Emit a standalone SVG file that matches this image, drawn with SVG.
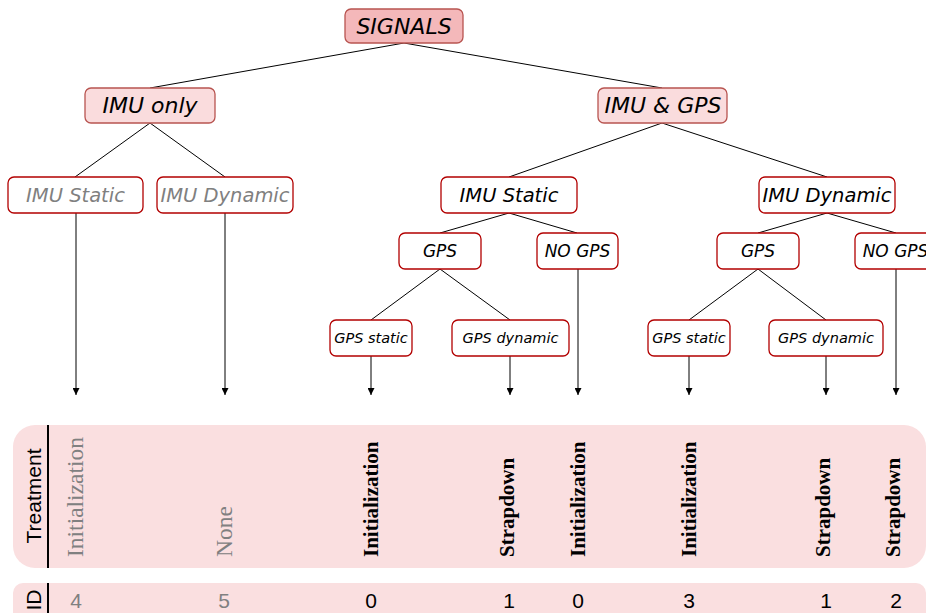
<svg xmlns="http://www.w3.org/2000/svg" width="926" height="613" viewBox="0 0 926 613">
  <defs>
    <marker id="arrow" viewBox="0 0 8 8" refX="8" refY="4" markerWidth="7" markerHeight="7" markerUnits="userSpaceOnUse" orient="auto">
      <path d="M0,0 L8,4 L0,8 Z" fill="#000"/>
    </marker>
    <style>
      .box { fill: #ffffff; stroke: #b20000; stroke-width: 1.3; }
      .root { fill: #f4b8ba; stroke: #b85450; stroke-width: 1.3; }
      .top { fill: #fadcdd; stroke: #b85450; stroke-width: 1.3; }
      .lbl { font-family: "DejaVu Sans", Verdana, sans-serif; font-style: italic; text-anchor: middle; fill: #000; }
      .gray { fill: #808080; }
      .l1 { font-size: 22px; }
      .l2 { font-size: 19.5px; }
      .l3 { font-size: 17px; }
      .l4 { font-size: 14.5px; }
      .edge { stroke: #000; stroke-width: 1; fill: none; }
      .arr { stroke: #000; stroke-width: 1; fill: none; marker-end: url(#arrow); }
      .band { fill: #fadfe0; }
      .sep { stroke: #000; stroke-width: 2; }
      .hdr { font-family: "Liberation Sans", Arial, sans-serif; font-size: 21px; fill: #000; text-anchor: middle; }
      .treat { font-family: "Liberation Serif", "Times New Roman", serif; font-size: 21px; font-weight: bold; fill: #000; }
      .treat.gray { font-weight: normal; font-size: 23.5px; fill: #808080; }
      .id { font-family: "Liberation Sans", Arial, sans-serif; font-size: 21px; text-anchor: middle; fill: #000; }
      .id.gray { fill: #808080; }
    </style>
  </defs>

  <!-- tree connectors -->
  <g id="connectors">
    <path class="edge" d="M404,43 L150,88"/>
    <path class="edge" d="M404,43 L662,88"/>
    <path class="edge" d="M150,123 L75,177"/>
    <path class="edge" d="M150,123 L225,177"/>
    <path class="edge" d="M662,123 L509,177"/>
    <path class="edge" d="M662,123 L827,177"/>
    <path class="edge" d="M509,213 L440,233"/>
    <path class="edge" d="M509,213 L577,233"/>
    <path class="edge" d="M827,213 L758,233"/>
    <path class="edge" d="M827,213 L896,233"/>
    <path class="edge" d="M440,269 L371,320"/>
    <path class="edge" d="M440,269 L510,320"/>
    <path class="edge" d="M758,269 L689,320"/>
    <path class="edge" d="M758,269 L826,320"/>
    <!-- leaves down to the table -->
    <path class="arr" d="M76,213 L76,395"/>
    <path class="arr" d="M225,213 L225,395"/>
    <path class="arr" d="M371,356 L371,395"/>
    <path class="arr" d="M510,356 L510,395"/>
    <path class="arr" d="M578,269 L578,395"/>
    <path class="arr" d="M689,356 L689,395"/>
    <path class="arr" d="M826,356 L826,395"/>
    <path class="arr" d="M896,269 L896,395"/>
  </g>

  <g id="signals">
    <rect class="root" x="345" y="9" width="118" height="34" rx="6"/>
    <text class="lbl l1" x="404" y="34">SIGNALS</text>
  </g>
  <g id="imu-only">
    <rect class="top" x="85" y="88" width="130" height="35" rx="6"/>
    <text class="lbl l1" x="150" y="113">IMU only</text>
  </g>
  <g id="imu-gps">
    <rect class="top" x="598" y="88" width="129" height="35" rx="6"/>
    <text class="lbl l1" x="663" y="113">IMU &amp; GPS</text>
  </g>

  <g id="imu-static-a">
    <rect class="box" x="8" y="177" width="135" height="36" rx="6"/>
    <text class="lbl l2 gray" x="75.5" y="202">IMU Static</text>
  </g>
  <g id="imu-dynamic-a">
    <rect class="box" x="157" y="177" width="136" height="36" rx="6"/>
    <text class="lbl l2 gray" x="225" y="202">IMU Dynamic</text>
  </g>
  <g id="imu-static-b">
    <rect class="box" x="441" y="177" width="136" height="36" rx="6"/>
    <text class="lbl l2" x="509" y="202">IMU Static</text>
  </g>
  <g id="imu-dynamic-b">
    <rect class="box" x="759" y="177" width="136" height="36" rx="6"/>
    <text class="lbl l2" x="827" y="202">IMU Dynamic</text>
  </g>

  <g id="gps-a">
    <rect class="box" x="399" y="233" width="82" height="36" rx="6"/>
    <text class="lbl l3" x="440" y="257">GPS</text>
  </g>
  <g id="no-gps-a">
    <rect class="box" x="537" y="233" width="81" height="36" rx="6"/>
    <text class="lbl l3" x="577.5" y="257">NO GPS</text>
  </g>
  <g id="gps-b">
    <rect class="box" x="717" y="233" width="82" height="36" rx="6"/>
    <text class="lbl l3" x="758" y="257">GPS</text>
  </g>
  <g id="no-gps-b">
    <rect class="box" x="855" y="233" width="81" height="36" rx="6"/>
    <text class="lbl l3" x="895.5" y="257">NO GPS</text>
  </g>

  <g id="gps-static-a">
    <rect class="box" x="330" y="320" width="82" height="36" rx="6"/>
    <text class="lbl l4" x="371" y="343">GPS static</text>
  </g>
  <g id="gps-dynamic-a">
    <rect class="box" x="452" y="320" width="117" height="36" rx="6"/>
    <text class="lbl l4" x="510.5" y="343">GPS dynamic</text>
  </g>
  <g id="gps-static-b">
    <rect class="box" x="648" y="320" width="82" height="36" rx="6"/>
    <text class="lbl l4" x="689" y="343">GPS static</text>
  </g>
  <g id="gps-dynamic-b">
    <rect class="box" x="769" y="320" width="114" height="36" rx="6"/>
    <text class="lbl l4" x="826" y="343">GPS dynamic</text>
  </g>

  <!-- treatment row -->
  <g id="treatment-row">
    <rect class="band" x="13" y="425" width="913" height="143" rx="22"/>
    <line class="sep" x1="48" y1="425" x2="48" y2="568"/>
    <text class="hdr" transform="translate(41,496) rotate(-90)">Treatment</text>
    <text class="treat gray" transform="translate(83,557) rotate(-90)">Initialization</text>
    <text class="treat gray" transform="translate(232,557) rotate(-90)">None</text>
    <text class="treat" transform="translate(378,557) rotate(-90)">Initialization</text>
    <text class="treat" transform="translate(514,557) rotate(-90)">Strapdown</text>
    <text class="treat" transform="translate(585,557) rotate(-90)">Initialization</text>
    <text class="treat" transform="translate(696,557) rotate(-90)">Initialization</text>
    <text class="treat" transform="translate(830,557) rotate(-90)">Strapdown</text>
    <text class="treat" transform="translate(900,557) rotate(-90)">Strapdown</text>
  </g>

  <!-- id row -->
  <g id="id-row">
    <rect class="band" x="13" y="583" width="913" height="60" rx="10"/>
    <line class="sep" x1="48" y1="583" x2="48" y2="613"/>
    <text class="hdr" transform="translate(41,600) rotate(-90)">ID</text>
    <text class="id gray" x="76" y="608">4</text>
    <text class="id gray" x="224" y="608">5</text>
    <text class="id" x="371" y="608">0</text>
    <text class="id" x="509" y="608">1</text>
    <text class="id" x="578" y="608">0</text>
    <text class="id" x="689" y="608">3</text>
    <text class="id" x="826" y="608">1</text>
    <text class="id" x="896" y="608">2</text>
  </g>
</svg>
